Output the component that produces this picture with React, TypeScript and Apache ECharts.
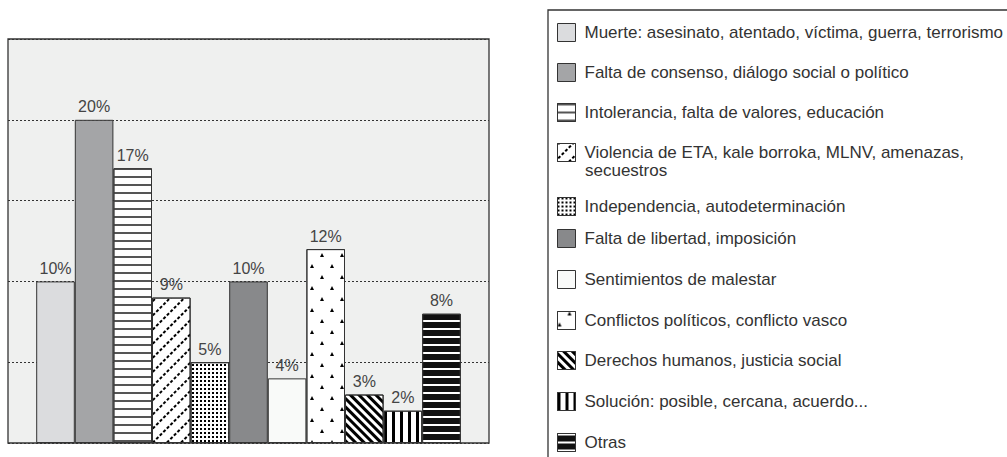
import React, { useEffect, useRef } from 'react';
import * as echarts from 'echarts';

const categories = [
  'Muerte: asesinato, atentado, víctima, guerra, terrorismo',
  'Falta de consenso, diálogo social o político',
  'Intolerancia, falta de valores, educación',
  'Violencia de ETA, kale borroka, MLNV, amenazas, secuestros',
  'Independencia, autodeterminación',
  'Falta de libertad, imposición',
  'Sentimientos de malestar',
  'Conflictos políticos, conflicto vasco',
  'Derechos humanos, justicia social',
  'Solución: posible, cercana, acuerdo...',
  'Otras',
];
const values = [10, 20, 17, 9, 5, 10, 4, 12, 3, 2, 8];
const yTicks = [0, 5, 10, 15, 20, 25];

const FONT = '"Liberation Sans", Arial, Helvetica, sans-serif';

const baseColors = ['#dbdcde', '#a4a5a7', '#ffffff', '#ffffff', '#ffffff', '#88898b', '#f9faf9', '#ffffff', '#ffffff', '#ffffff', '#111111'];

const decals: any[] = [
  null,
  null,
  { symbol: 'rect', symbolSize: 1, color: '#555555', dashArrayX: [1, 0], dashArrayY: [2, 6] },
  { symbol: 'rect', symbolSize: 1, color: '#000000', dashArrayX: [3, 2], dashArrayY: [1.2, 7.5], rotation: -Math.PI / 4 },
  { symbol: 'rect', symbolSize: 1, color: '#000000', dashArrayX: [2, 2], dashArrayY: [2, 2] },
  null,
  null,
  { symbol: 'triangle', symbolSize: 1, color: '#000000', dashArrayX: [[4, 16], [0, 10, 4, 6]], dashArrayY: [4, 7] },
  { symbol: 'rect', symbolSize: 1, color: '#000000', dashArrayX: [1, 0], dashArrayY: [3, 2.5], rotation: Math.PI / 4 },
  { symbol: 'rect', symbolSize: 1, color: '#000000', dashArrayX: [3, 5], dashArrayY: [1, 0] },
  { symbol: 'rect', symbolSize: 1, color: '#ffffff', dashArrayX: [1, 0], dashArrayY: [2, 5.5] },
];

const legendCenters = [32, 72, 112, 152, 206, 238, 279, 320, 360, 401, 442];
const ICON = 18;

export default function App() {
  const ref = useRef<HTMLDivElement>(null);
  useEffect(() => {
    document.body.style.margin = '0';
    const chart = echarts.init(ref.current!, undefined, { renderer: 'svg' });
    const series = categories.map((name, i) => ({
      name,
      type: 'bar',
      data: [values[i]],
      barWidth: 38.6,
      barGap: '0%',
      itemStyle: {
        color: baseColors[i],
        borderColor: '#333333',
        borderWidth: 1,
        decal: decals[i] || undefined,
      },
      label: {
        show: true,
        position: 'top',
        distance: 5,
        formatter: '{c}%',
        fontSize: 16,
        color: '#444444',
        fontFamily: FONT,
      },
    }));
    const legends = categories.map((name, i) => ({
      data: [name],
      left: 557,
      top: legendCenters[i] - ICON / 2,
      padding: 0,
      icon: 'rect',
      itemWidth: ICON,
      itemHeight: ICON,
      itemGap: 0,
      selectedMode: false,
      textStyle: { fontSize: 17, color: '#333333', fontFamily: FONT, padding: [0, 0, 0, 4] },
      itemStyle: { borderColor: '#333333', borderWidth: 1 },
      formatter: (n: string) => (i === 3 ? n.replace(' secuestros', '') : n),
    }));
    chart.setOption({
      animation: false,
      backgroundColor: '#ffffff',
      grid: {
        left: 8,
        top: 39,
        width: 481,
        height: 404,
        show: true,
        backgroundColor: '#eff0ef',
        borderColor: '#333333',
        borderWidth: 1.3,
      },
      xAxis: {
        type: 'category',
        data: [''],
        axisLine: { show: false },
        axisTick: { show: false },
        axisLabel: { show: false },
      },
      yAxis: {
        type: 'value',
        min: yTicks[0],
        max: yTicks[yTicks.length - 1],
        interval: yTicks[1] - yTicks[0],
        axisLine: { show: false },
        axisTick: { show: false },
        axisLabel: { show: false },
        splitLine: { lineStyle: { color: '#333333', type: [2, 2], width: 1 } },
      },
      legend: legends,
      graphic: [
        {
          type: 'rect',
          shape: { x: 548, y: 10, width: 520, height: 520 },
          style: { fill: 'none', stroke: '#333333', lineWidth: 1.3 },
        },
        {
          type: 'text',
          left: 585,
          top: 162,
          style: { text: 'secuestros', fontSize: 17, fill: '#333333', fontFamily: FONT },
        },
      ],
      series,
    });
    return () => chart.dispose();
  }, []);
  return <div ref={ref} style={{ width: 1007, height: 457 }} />;
}
